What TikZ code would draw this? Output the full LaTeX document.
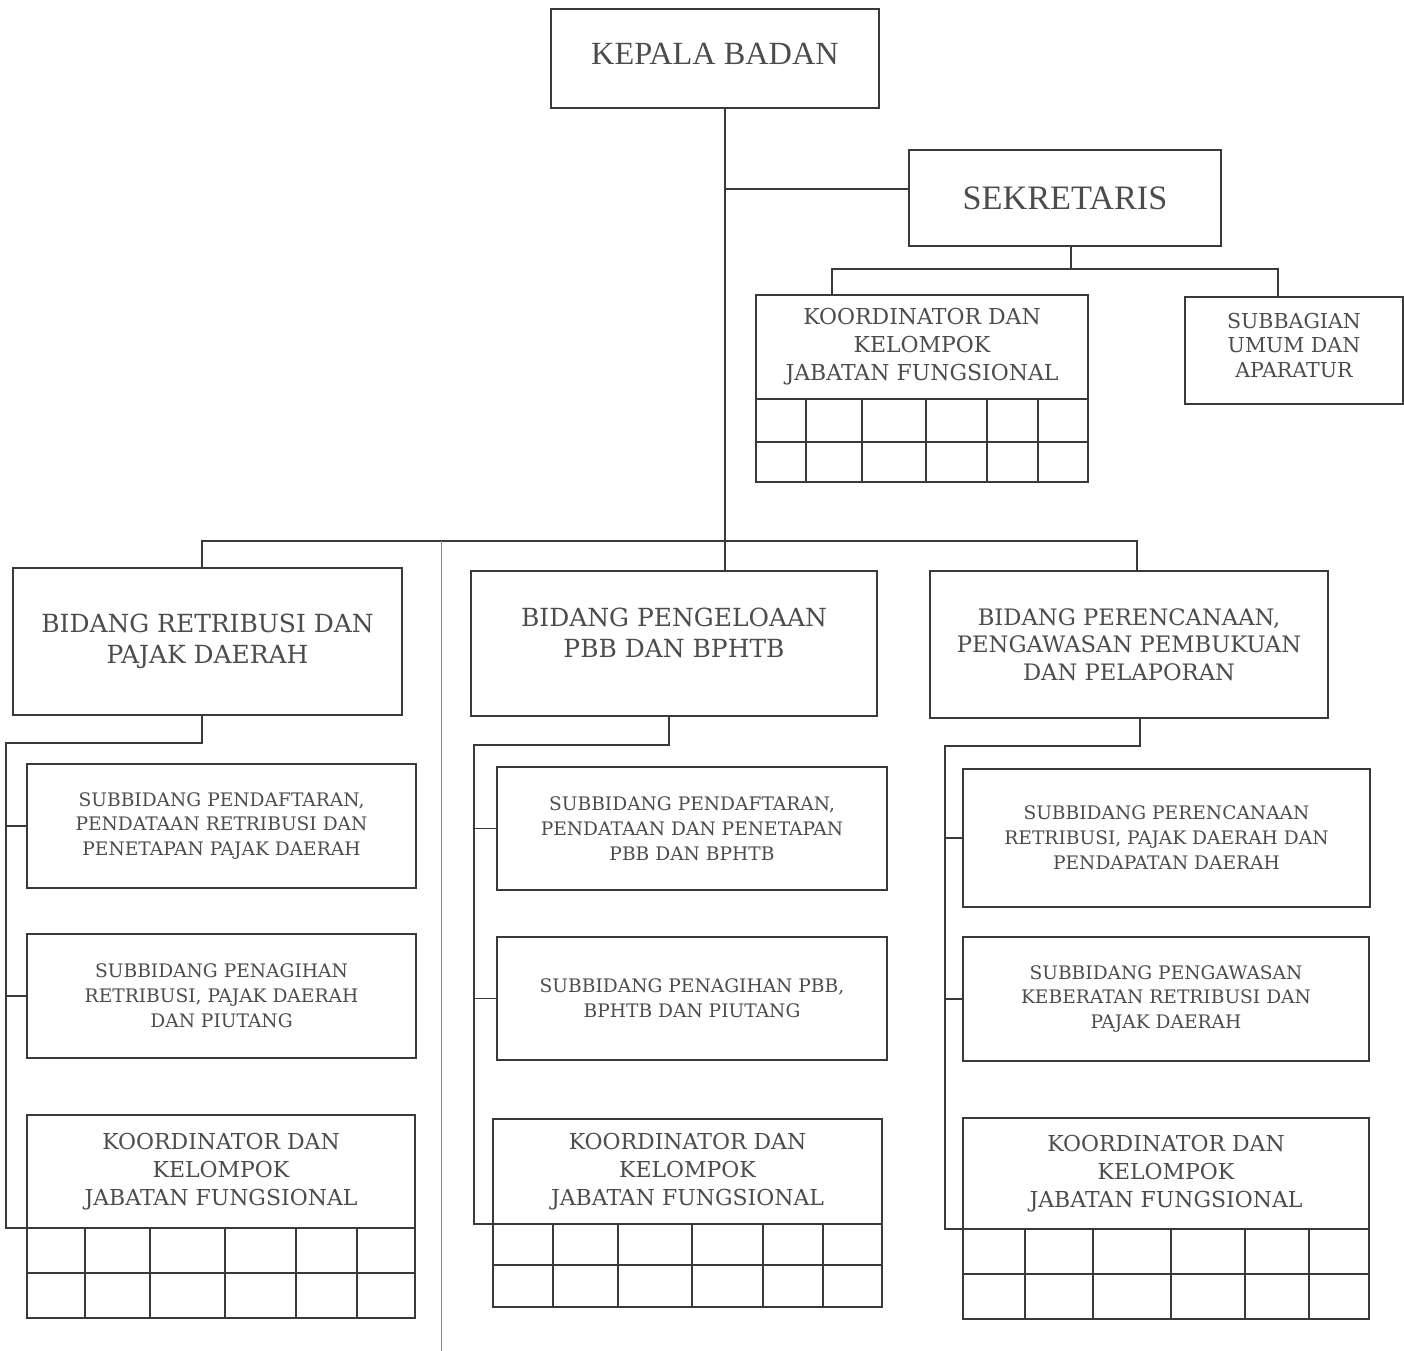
\documentclass[tikz,border=0pt]{standalone}
\usepackage{fontspec}
\setmainfont{DejaVu Serif}
\newfontfamily\topfont{Liberation Serif}

\definecolor{inkc}{HTML}{3A3A3A}
\definecolor{txtc}{HTML}{4C4C4C}
\definecolor{foldc}{HTML}{8A8A8A}

% grid under a koordinator box: node, middle y, bottom y, column x list
\newcommand{\jfgrid}[4]{%
  \draw[wire] (#1.south west) rectangle (#1.south east |- 0,#3);
  \draw[wire] (#1.south west |- 0,#2) -- (#1.south east |- 0,#2);
  \foreach \cx in {#4} \draw[wire] (\cx,0 |- #1.south) -- (\cx,#3);
}

\begin{document}
\begin{tikzpicture}[x=0.2mm, y=-0.2mm,
  wire/.style={draw=inkc, line width=1.1pt},
  fold/.style={draw=foldc, line width=0.5pt},
  box/.style={draw=inkc, line width=1.1pt, text=txtc, align=center,
    inner sep=0pt, outer sep=0pt},
  lbl/.style={text=txtc, align=center, inner sep=0pt},
  wh/.style 2 args={minimum width=#1*0.2mm, minimum height=#2*0.2mm},
  topf/.style={font=\topfont\fontsize{#1}{#1}\selectfont},
  bidf/.style={font=\fontsize{14.2}{17.6}\selectfont},
  subf/.style={font=\fontsize{10.6}{14.2}\selectfont},
  kjff/.style={font=\fontsize{12.5}{15.9}\selectfont}]
  \useasboundingbox (0,0) rectangle (1404,1351);

  % top
  \node[box, wh={328}{99},
    label={[lbl, topf=18.4, yshift=1mm]center:KEPALA BADAN}] (kepala) at (715,58.5) {};
  \node[box, wh={312}{96}, topf=19.5] (sekretaris) at (1065,198) {SEKRETARIS};
  \node[box, wh={332}{104}, kjff] (kjf0) at (922,347)
    {KOORDINATOR DAN\\KELOMPOK\\JABATAN FUNGSIONAL};
  \node[box, wh={218}{107},
    label={[lbl, font=\fontsize{11.7}{13.9}\selectfont, yshift=1mm]center:{SUBBAGIAN\\UMUM DAN\\APARATUR}}]
    (umum) at (1294,350.5) {};
  \jfgrid{kjf0}{442}{482}{806,862,926,987,1038}

  % bidang
  \node[box, wh={389}{147}, bidf] (bid1) at (207.5,641.5)
    {BIDANG RETRIBUSI DAN\\PAJAK DAERAH};
  \node[box, wh={406}{145},
    label={[lbl, bidf, yshift=2.2mm]center:{BIDANG PENGELOAAN\\PBB DAN BPHTB}}]
    (bid2) at (674,643.5) {};
  \node[box, wh={398}{147}, font=\fontsize{12.9}{15.6}\selectfont] (bid3) at (1129,644.5)
    {BIDANG PERENCANAAN,\\PENGAWASAN PEMBUKUAN\\DAN PELAPORAN};

  % left column
  \node[box, wh={389}{124}, subf] (sub11) at (221.5,826)
    {SUBBIDANG PENDAFTARAN,\\PENDATAAN RETRIBUSI DAN\\PENETAPAN PAJAK DAERAH};
  \node[box, wh={389}{124}, subf] (sub12) at (221.5,996)
    {SUBBIDANG PENAGIHAN\\RETRIBUSI, PAJAK DAERAH\\DAN PIUTANG};
  \node[box, wh={388}{113}, kjff] (kjf1) at (221,1171.5)
    {KOORDINATOR DAN\\KELOMPOK\\JABATAN FUNGSIONAL};
  \jfgrid{kjf1}{1273}{1318}{85,150,225,296,357}

  % middle column
  \node[box, wh={390}{123}, subf] (sub21) at (692,828.5)
    {SUBBIDANG PENDAFTARAN,\\PENDATAAN DAN PENETAPAN\\PBB DAN BPHTB};
  \node[box, wh={390}{123}, subf] (sub22) at (692,998.5)
    {SUBBIDANG PENAGIHAN PBB,\\BPHTB DAN PIUTANG};
  \node[box, wh={389}{105}, kjff] (kjf2) at (687.5,1171.5)
    {KOORDINATOR DAN\\KELOMPOK\\JABATAN FUNGSIONAL};
  \jfgrid{kjf2}{1265}{1307}{553,618,692,763,823}

  % right column
  \node[box, wh={407}{138}, subf] (sub31) at (1166.5,838)
    {SUBBIDANG PERENCANAAN\\RETRIBUSI, PAJAK DAERAH DAN\\PENDAPATAN DAERAH};
  \node[box, wh={406}{124}, subf] (sub32) at (1166,999)
    {SUBBIDANG PENGAWASAN\\KEBERATAN RETRIBUSI DAN\\PAJAK DAERAH};
  \node[box, wh={406}{111}, kjff] (kjf3) at (1166,1173.5)
    {KOORDINATOR DAN\\KELOMPOK\\JABATAN FUNGSIONAL};
  \jfgrid{kjf3}{1274}{1319}{1025,1093,1171,1245,1309}

  % trunk and sekretaris
  \coordinate (t) at (725,541);
  \coordinate (s) at (725,189);
  \draw[wire] (kepala.south -| t) -- (bid2.north -| t);
  \draw[wire] (s) -- (s -| sekretaris.west);
  \coordinate (sb) at (1071,269);
  \coordinate (b1) at (832,269);
  \coordinate (b2) at (1278,269);
  \draw[wire] (sb |- sekretaris.south) -- (sb);
  \draw[wire] (b1 |- kjf0.north) -- (b1) -- (b2) -- (b2 |- umum.north);

  % bus
  \coordinate (bl) at (202,541);
  \coordinate (br) at (1137,541);
  \coordinate (f) at (441,541);
  \draw[wire] (bl |- bid1.north) -- (bl) -- (br) -- (br |- bid3.north);
  \draw[fold] (f) -- (f |- 0,1351);

  % column connectors
  \coordinate (d1) at (202,743);
  \coordinate (c1) at (6,743);
  \draw[wire] (d1 |- bid1.south) -- (d1) -- (c1) -- (c1 |- kjf1.south) -- (kjf1.south west);
  \foreach \n in {sub11, sub12} \draw[wire] (c1 |- \n.west) -- (\n.west);

  \coordinate (d2) at (669,745);
  \coordinate (c2) at (474,745);
  \draw[wire] (d2 |- bid2.south) -- (d2) -- (c2) -- (c2 |- kjf2.south) -- (kjf2.south west);
  \foreach \n in {sub21, sub22} \draw[wire] (c2 |- \n.west) -- (\n.west);

  \coordinate (d3) at (1140,746);
  \coordinate (c3) at (945,746);
  \draw[wire] (d3 |- bid3.south) -- (d3) -- (c3) -- (c3 |- kjf3.south) -- (kjf3.south west);
  \foreach \n in {sub31, sub32} \draw[wire] (c3 |- \n.west) -- (\n.west);
\end{tikzpicture}
\end{document}
